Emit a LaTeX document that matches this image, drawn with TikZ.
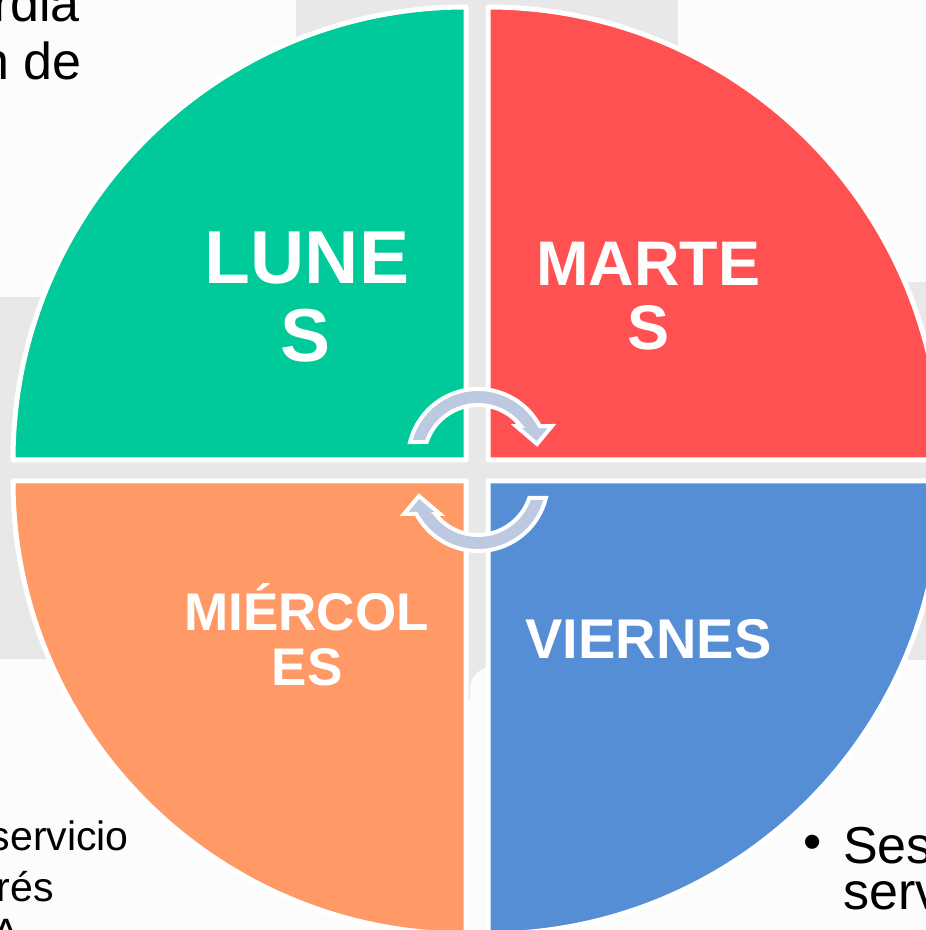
\documentclass[tikz,border=0pt]{standalone}
\usepackage{fontspec}
\setmainfont{Liberation Sans}
\definecolor{bgc}{RGB}{252,252,252}
\definecolor{grayc}{RGB}{232,232,232}
\definecolor{greenc}{RGB}{0,202,153}
\definecolor{redc}{RGB}{255,81,81}
\definecolor{orangec}{RGB}{255,153,102}
\definecolor{bluec}{RGB}{85,142,213}
\definecolor{arrowc}{RGB}{189,201,225}
\begin{document}
\begin{tikzpicture}[x=1pt,y=1pt,
  quad/.style={line width=5pt, draw=white, line join=round},
  lbl/.style={text=white, inner sep=0pt, anchor=base},
  bgtext/.style={text=black, inner sep=0pt, font=\fontsize{52}{52}\selectfont},
  smalltext/.style={text=black, inner sep=0pt, font=\fontsize{41}{41}\selectfont},
  cyc/.style={fill=arrowc, draw=white, line width=4pt, line join=miter}]
\useasboundingbox (0,0) rectangle (926,930);
\clip (0,0) rectangle (926,930);
% background
\fill[bgc] (0,0) rectangle (926,930);
\fill[grayc] (296,930) rectangle (678,263);
\fill[grayc] (0,633) rectangle (480,271);
\fill[grayc] (480,648) rectangle (926,270);
\fill[grayc] (466,270) rectangle (490,230);
\fill[bgc, rounded corners=22pt] (470,263) rectangle (1000,-70);
% partial slide texts
\node[bgtext, anchor=base east] (t1) at (80,908) {rdia};
\node[bgtext, anchor=base east] (t2) at (82,850) {n de};
\node[smalltext, anchor=base east] (t3) at (129,79) {servicio};
\node[smalltext, anchor=base east] (t4) at (54,28) {rés};
\node[smalltext, anchor=base west] (t5) at (-8,-17) {A};
\node[bgtext, anchor=center] (bul) at (813,83) {•};
\node[bgtext, anchor=base west] (t6) at (843,66) {Ses};
\node[bgtext, anchor=base west] (t7) at (843,20) {serv};
% quadrants
\draw[quad, fill=greenc] (466,470) -- (466,923) arc[start angle=90,end angle=180,radius=453] -- cycle;
\draw[quad, fill=redc] (488,470) -- (941,470) arc[start angle=0,end angle=90,radius=453] -- cycle;
\draw[quad, fill=orangec] (466,449) -- (13,449) arc[start angle=180,end angle=270,radius=453] -- cycle;
\draw[quad, fill=bluec] (488,449) -- (488,-4) arc[start angle=270,end angle=360,radius=453] -- cycle;
% cycle arrows
\coordinate (ct) at (478,471);
\coordinate (cb) at (478,449);
\draw[cyc] ([shift={(165.95:70)}]ct) arc[start angle=165.95,end angle=28,radius=70]
  -- ([shift={(74,33)}]ct) -- ([shift={(59,15)}]ct) -- ([shift={(38,33)}]ct)
  -- ([shift={(37.7:54)}]ct) arc[start angle=37.7,end angle=161.65,radius=54] -- cycle;
\draw[cyc] ([shift={(345.95:70)}]cb) arc[start angle=345.95,end angle=208,radius=70]
  -- ([shift={(-74,-33)}]cb) -- ([shift={(-59,-15)}]cb) -- ([shift={(-38,-33)}]cb)
  -- ([shift={(217.7:54)}]cb) arc[start angle=217.7,end angle=341.65,radius=54] -- cycle;
% labels
\node[lbl, font=\bfseries\fontsize{75}{75}\selectfont] (lune1) at (307,646) {LUNE};
\node[lbl, font=\bfseries\fontsize{75}{75}\selectfont] (lune2) at (306,568) {S};
\node[lbl, font=\bfseries\fontsize{63}{63}\selectfont] (marte1) at (648.5,644) {MARTE};
\node[lbl, font=\bfseries\fontsize{63}{63}\selectfont] (marte2) at (649,580) {S};
\node[lbl, font=\bfseries\fontsize{53}{53}\selectfont] (mier1) at (306.5,299) {MIÉRCOL};
\node[lbl, font=\bfseries\fontsize{53}{53}\selectfont] (mier2) at (307,244) {ES};
\node[lbl, font=\bfseries\fontsize{56}{56}\selectfont] (vier) at (648.5,271) {VIERNES};
\end{tikzpicture}
\end{document}
